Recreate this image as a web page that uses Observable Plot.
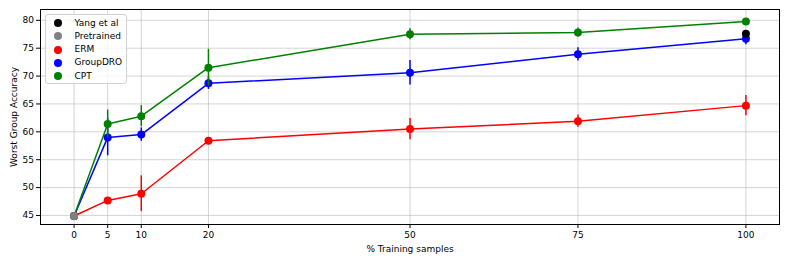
<!DOCTYPE html>
<html>
<head>
<meta charset="utf-8">
<script src="https://cdn.jsdelivr.net/npm/d3@7"></script>
<script src="https://cdn.jsdelivr.net/npm/@observablehq/plot@0.6"></script>
<style>
  html, body { margin: 0; padding: 0; background: #fff; }
  #wrap { position: relative; width: 789px; height: 263px; font-family: "DejaVu Sans", sans-serif; }
  #legend { position: absolute; left: 45px; top: 14px; width: 82px; height: 70px;
    border: 1px solid #d0d0d0; border-radius: 3px; background: rgba(255,255,255,0.8);
    font-size: 9px; color: #000; box-sizing: border-box; }
  .row { position: absolute; left: 0; height: 13px; line-height: 13px; white-space: nowrap; }
  .sw { position: absolute; left: 7.5px; top: 2.5px; width: 8px; height: 8px; border-radius: 50%; }
  .lb { position: absolute; left: 28.5px; top: 0; }
</style>
</head>
<body>
<div id="wrap"></div>
<script>
const X = [0, 5, 10, 20, 50, 75, 100];
const xTicks = [0, 5, 10, 20, 50, 75, 100];
const yTicks = [45, 50, 55, 60, 65, 70, 75, 80];
const seriesNames = ["ERM", "GroupDRO", "CPT"];
const seriesColors = ["red", "blue", "green"];
const erm = [44.9, 47.7, 48.9, 58.4, 60.5, 61.9, 64.7];
const ermErr = [0, 0.3, 3.2, 0.3, 1.9, 1.1, 1.8];
const dro = [44.9, 59.0, 59.5, 68.7, 70.6, 73.9, 76.7];
const droErr = [0, 3.3, 1.2, 1.1, 2.2, 1.2, 1.1];
const cpt = [44.9, 61.4, 62.8, 71.5, 77.5, 77.8, 79.8];
const cptErr = [0, 2.5, 1.9, 3.3, 1.0, 0.8, 0.3];
const pretrained = [{x: 0, y: 44.9}];
const yang = [{x: 100, y: 77.6}];
const legendNames = ["Yang et al", "Pretrained", "ERM", "GroupDRO", "CPT"];
const legendColors = ["black", "gray", "red", "blue", "green"];

const vals = [erm, dro, cpt];
const errs = [ermErr, droErr, cptErr];
const rows = [];
seriesNames.forEach((s, i) => {
  X.forEach((x, j) => rows.push({series: s, x, y: vals[i][j], err: errs[i][j]}));
});

const colorOf = Object.fromEntries(seriesNames.map((s, i) => [s, seriesColors[i]]));

const marks = [
  Plot.gridX(xTicks, {stroke: "#b0b0b0", strokeOpacity: 0.55, strokeWidth: 1}),
  Plot.gridY(yTicks, {stroke: "#b0b0b0", strokeOpacity: 0.55, strokeWidth: 1}),
];
seriesNames.forEach(s => {
  const d = rows.filter(r => r.series === s);
  const c = colorOf[s];
  marks.push(Plot.ruleX(d.filter(r => r.err > 0), {x: "x", y1: r => r.y - r.err, y2: r => r.y + r.err, stroke: c, strokeWidth: 1.5}));
  marks.push(Plot.lineY(d, {x: "x", y: "y", stroke: c, strokeWidth: 1.5}));
  marks.push(Plot.dot(d, {x: "x", y: "y", r: 4, fill: c}));
});
marks.push(Plot.dot(yang, {x: "x", y: "y", r: 4, fill: "black"}));
marks.push(Plot.dot(pretrained, {x: "x", y: "y", r: 4, fill: "gray"}));
marks.push(Plot.frame({stroke: "#000", strokeWidth: 1}));
marks.push(Plot.axisX({ticks: xTicks, tickSize: 4, tickPadding: 3, label: "% Training samples", labelAnchor: "center", labelArrow: "none", labelOffset: 27, fontSize: 9}));
marks.push(Plot.axisY({ticks: yTicks, tickSize: 4, tickPadding: 2.5, label: "Worst Group Accuracy", labelAnchor: "center", labelArrow: "none", labelOffset: 30, fontSize: 9}));

const chart = Plot.plot({
  width: 789,
  height: 263,
  marginLeft: 40,
  marginRight: 10,
  marginTop: 9,
  marginBottom: 39,
  style: {fontFamily: "DejaVu Sans, sans-serif", fontSize: "9px", color: "#000", background: "#fff"},
  x: {type: "linear", domain: [-5, 105]},
  y: {type: "linear", domain: [43.38, 81.94]},
  marks
});
const wrap = document.getElementById("wrap");
wrap.appendChild(chart);

const lg = document.createElement("div");
lg.id = "legend";
legendNames.forEach((n, i) => {
  const r = document.createElement("div");
  r.className = "row";
  r.style.top = (1.5 + i * 13.3) + "px";
  r.style.width = "100%";
  const sw = document.createElement("span");
  sw.className = "sw";
  sw.style.background = legendColors[i];
  const lb = document.createElement("span");
  lb.className = "lb";
  lb.textContent = n;
  r.appendChild(sw); r.appendChild(lb);
  lg.appendChild(r);
});
wrap.appendChild(lg);
</script>
</body>
</html>
